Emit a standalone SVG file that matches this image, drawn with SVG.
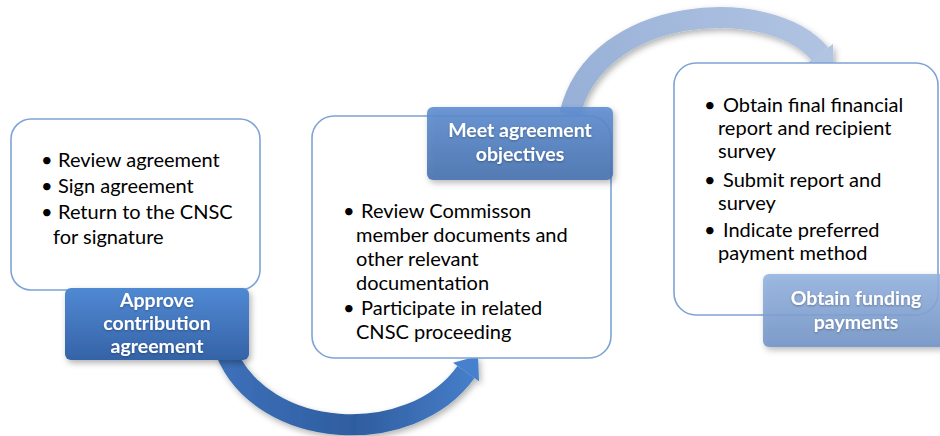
<svg xmlns="http://www.w3.org/2000/svg" width="940" height="436" viewBox="0 0 940 436">
  <defs>
    <linearGradient id="gLab1" x1="0" y1="0" x2="0" y2="1">
      <stop offset="0" stop-color="#5089d3"/>
      <stop offset="1" stop-color="#3563a7"/>
    </linearGradient>
    <linearGradient id="gLab2" x1="0" y1="0" x2="0" y2="1">
      <stop offset="0" stop-color="#5f8fd2"/>
      <stop offset="1" stop-color="#4872b0"/>
    </linearGradient>
    <linearGradient id="gLab3" x1="0" y1="0" x2="0" y2="1">
      <stop offset="0" stop-color="#93b3e0"/>
      <stop offset="1" stop-color="#7293c6"/>
    </linearGradient>
    <linearGradient id="gArr1" gradientUnits="userSpaceOnUse" x1="230" y1="360" x2="480" y2="360">
      <stop offset="0" stop-color="#3c6fb8"/>
      <stop offset="0.5" stop-color="#2f5d9f"/>
      <stop offset="1" stop-color="#4780cc"/>
    </linearGradient>
    <linearGradient id="gArr2" gradientUnits="userSpaceOnUse" x1="570" y1="110" x2="830" y2="20">
      <stop offset="0" stop-color="#98b0d7"/>
      <stop offset="1" stop-color="#b1c4e2"/>
    </linearGradient>
    <filter id="shadow" x="-20%" y="-20%" width="140%" height="150%">
      <feDropShadow dx="2" dy="3" stdDeviation="3" flood-color="#000" flood-opacity="0.3"/>
    </filter>
    <filter id="tshadow" x="-10%" y="-20%" width="120%" height="150%">
      <feDropShadow dx="0" dy="1" stdDeviation="1" flood-color="#000" flood-opacity="0.3"/>
    </filter>
  </defs>
  <style>
    .box { fill: #ffffff; stroke: #7ea3d6; stroke-width: 1.6; }
    .body { font-family: Lato, "Liberation Sans", sans-serif; font-size: 20px; fill: #000000; }
    .lab { font-family: Lato, "Liberation Sans", sans-serif; font-size: 19.5px; font-weight: bold; fill: #ffffff; text-anchor: middle; }
    .arrow { fill: none; stroke-width: 21; stroke-linecap: butt; }
  </style>

  <g id="connectors" filter="url(#shadow)">
    <g id="arrow-1-2">
      <path class="arrow" d="M226,352 C262,440 410,450 466,372" stroke="url(#gArr1)"/>
      <polygon points="453,362.7 479,381.3 478,356" fill="#4780cc"/>
    </g>
    <g id="arrow-2-3">
      <path class="arrow" d="M570,114 C596,4 770,-6 820,54" stroke="url(#gArr2)"/>
      <polygon points="833,44 806,64 834,72" fill="#b1c4e2"/>
    </g>
  </g>

  <g id="node-approve">
    <rect class="box" x="11" y="119" width="249" height="171" rx="20"/>
    <text class="body" x="41" y="167">•</text>
    <text class="body" x="58" y="167">Review agreement</text>
    <text class="body" x="41" y="193">•</text>
    <text class="body" x="58" y="193">Sign agreement</text>
    <text class="body" x="41" y="219">•</text>
    <text class="body" x="58" y="219">Return to the CNSC</text>
    <text class="body" x="53" y="244">for signature</text>
    <g filter="url(#shadow)">
      <rect x="65" y="288" width="184" height="72" rx="6" fill="url(#gLab1)"/>
    </g>
    <g filter="url(#tshadow)">
      <text class="lab" x="157" y="307">Approve</text>
      <text class="lab" x="157" y="330">contribution</text>
      <text class="lab" x="157" y="353">agreement</text>
    </g>
  </g>

  <g id="node-meet">
    <rect class="box" x="312" y="116" width="299" height="242" rx="22"/>
    <text class="body" x="343" y="218">•</text>
    <text class="body" x="361" y="218">Review Commisson</text>
    <text class="body" x="356" y="242">member documents and</text>
    <text class="body" x="356" y="266">other relevant</text>
    <text class="body" x="356" y="290">documentation</text>
    <text class="body" x="343" y="315">•</text>
    <text class="body" x="361" y="315">Participate in related</text>
    <text class="body" x="356" y="339">CNSC proceeding</text>
    <g filter="url(#shadow)">
      <rect x="427" y="107" width="186" height="73" rx="6" fill="url(#gLab2)" opacity="0.9"/>
    </g>
    <g filter="url(#tshadow)">
      <text class="lab" x="520" y="137">Meet agreement</text>
      <text class="lab" x="520" y="161">objectives</text>
    </g>
  </g>

  <g id="node-obtain">
    <rect class="box" x="674" y="63" width="264" height="252" rx="22"/>
    <text class="body" x="704" y="112">•</text>
    <text class="body" x="723" y="112">Obtain final financial</text>
    <text class="body" x="718" y="135">report and recipient</text>
    <text class="body" x="718" y="158">survey</text>
    <text class="body" x="704" y="187">•</text>
    <text class="body" x="723" y="187">Submit report and</text>
    <text class="body" x="718" y="210">survey</text>
    <text class="body" x="704" y="237">•</text>
    <text class="body" x="723" y="237">Indicate preferred</text>
    <text class="body" x="718" y="260">payment method</text>
    <g filter="url(#shadow)">
      <rect x="763" y="274" width="190" height="73" rx="6" fill="url(#gLab3)" opacity="0.88"/>
    </g>
    <g filter="url(#tshadow)">
      <text class="lab" x="856" y="305">Obtain funding</text>
      <text class="lab" x="856" y="329">payments</text>
    </g>
  </g>
</svg>
